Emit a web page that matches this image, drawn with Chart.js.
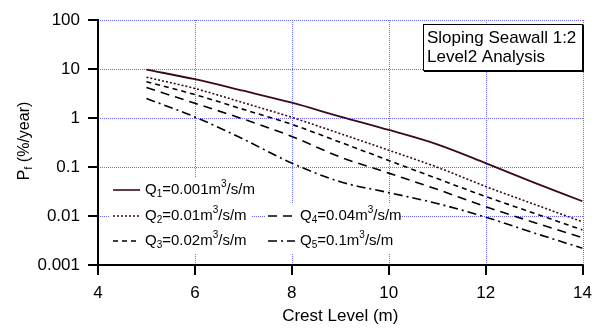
<!DOCTYPE html>
<html>
<head>
<meta charset="utf-8">
<script src="https://cdn.jsdelivr.net/npm/chart.js@4"></script>
<style>
  body { margin: 0; background: #fff; }
  #wrap { width: 600px; height: 329px; }
</style>
</head>
<body>
<div id="wrap"><canvas id="graph"></canvas></div>
<script>
// crest level (m) and failure probability (%/year) per overtopping limit
var crestLevels = [5, 6, 7, 8, 9, 10, 11, 12, 13, 14];
var pfQ1 = [9.7, 6.2, 3.6, 2.05, 1.07, 0.57, 0.29, 0.12, 0.048, 0.02];
var pfQ2 = [6.8, 4.0, 2.05, 1.03, 0.48, 0.22, 0.099, 0.04, 0.0174, 0.0076];
var pfQ3 = [5.5, 3.0, 1.5, 0.74, 0.32, 0.136, 0.058, 0.025, 0.0114, 0.0052];
var pfQ4 = [4.2, 2.0, 0.95, 0.42, 0.16, 0.075, 0.035, 0.0155, 0.0074, 0.0036];
var pfQ5 = [2.5, 1.05, 0.37, 0.12, 0.05, 0.03, 0.018, 0.0095, 0.0045, 0.0022];
var dischargeLabels = ['0.001', '0.01', '0.02', '0.04', '0.1'];
var yTickValues = [0.001, 0.01, 0.1, 1, 10, 100];
var xTickValues = [4, 6, 8, 10, 12, 14];
var noteLines = ['Sloping Seawall 1:2', 'Level2 Analysis'];

var FONT = "'Liberation Sans', Arial, sans-serif";
var maroon = '#3a0a1c';
var gridBlue = 'rgb(105,105,255)';

var styles = [
    { color: maroon, dash: [] },
    { color: maroon, dash: [2, 2] },
    { color: '#000', dash: [5, 4] },
    { color: '#000', dash: [9, 6] },
    { color: '#000', dash: [9, 4, 2, 4] }
];

var allSeries = [pfQ1, pfQ2, pfQ3, pfQ4, pfQ5];
var datasets = allSeries.map(function (vals, i) {
    return {
        label: 'Q' + (i + 1),
        data: crestLevels.map(function (x, j) { return { x: x, y: vals[j] }; }),
        borderColor: styles[i].color,
        borderDash: styles[i].dash,
        borderWidth: i == 0 ? 1.8 : 1.6,
        pointRadius: 0,
        fill: false,
        cubicInterpolationMode: 'monotone'
    };
});

// draw text with sub/superscripts: parts = [[text, 'sub'|'sup'|'']]
function drawRich(ctx, parts, x, y, size) {
    parts.forEach(function (p) {
        var small = p[1] != '';
        ctx.font = (small ? Math.round(size * 0.68) : size) + 'px ' + FONT;
        var dy = p[1] == 'sub' ? 4 : (p[1] == 'sup' ? -6 : 0);
        ctx.fillText(p[0], x, y + dy);
        x += ctx.measureText(p[0]).width;
    });
    return x;
}

function legendParts(i) {
    return [['Q', ''], [String(i + 1), 'sub'], ['=' + dischargeLabels[i] + 'm', ''], ['3', 'sup'], ['/s/m', '']];
}

var legendPos = [
    { x: 113, y: 190 }, { x: 113, y: 216 }, { x: 113, y: 241 },
    { x: 268, y: 216 }, { x: 268, y: 241 }
];

var extras = {
    id: 'extras',
    beforeDatasetsDraw: function (chart) {
        var ctx = chart.ctx;
        var area = chart.chartArea;
        var xs = chart.scales.x, ys = chart.scales.y;
        ctx.save();
        // dotted grid
        ctx.strokeStyle = gridBlue;
        ctx.lineWidth = 1;
        ctx.setLineDash([1, 1]);
        ctx.beginPath();
        xTickValues.forEach(function (v) {
            var px = Math.round(xs.getPixelForValue(v)) + 0.5;
            ctx.moveTo(px, area.top);
            ctx.lineTo(px, area.bottom);
        });
        yTickValues.forEach(function (v) {
            var py = Math.round(ys.getPixelForValue(v)) + 0.5;
            ctx.moveTo(area.left, py);
            ctx.lineTo(area.right + 1, py);
        });
        ctx.stroke();
        ctx.setLineDash([]);
        // axes
        ctx.strokeStyle = '#000';
        ctx.lineWidth = 2;
        ctx.beginPath();
        ctx.moveTo(area.left, area.top - 1);
        ctx.lineTo(area.left, area.bottom);
        ctx.lineTo(area.right + 1, area.bottom);
        ctx.stroke();
        // legend backgrounds
        ctx.fillStyle = '#fff';
        ctx.fillRect(110, 177, 142, 76);
        ctx.fillRect(265, 203, 135, 50);
        ctx.restore();
    },
    afterDatasetsDraw: function (chart) {
        var ctx = chart.ctx;
        ctx.save();
        // legend
        ctx.textBaseline = 'middle';
        legendPos.forEach(function (p, i) {
            ctx.strokeStyle = styles[i].color;
            ctx.lineWidth = 1.6;
            ctx.setLineDash(styles[i].dash);
            ctx.beginPath();
            ctx.moveTo(p.x, p.y);
            ctx.lineTo(p.x + 27, p.y);
            ctx.stroke();
            ctx.setLineDash([]);
            ctx.fillStyle = '#000';
            drawRich(ctx, legendParts(i), p.x + 32, p.y, 15);
        });
        // note box
        ctx.fillStyle = '#fff';
        ctx.fillRect(423, 24, 160, 47);
        ctx.strokeStyle = '#000';
        ctx.lineWidth = 1;
        ctx.strokeRect(423.5, 24.5, 159, 46);
        ctx.beginPath();
        ctx.moveTo(424, 71.5); ctx.lineTo(584, 71.5);
        ctx.moveTo(583.5, 25); ctx.lineTo(583.5, 72);
        ctx.stroke();
        ctx.fillStyle = '#000';
        ctx.font = '17px ' + FONT;
        ctx.fillText(noteLines[0], 427, 38.5);
        ctx.fillText(noteLines[1], 427, 57.5);
        // y axis title with subscript
        ctx.translate(25, 141);
        ctx.rotate(-Math.PI / 2);
        var parts = [['P', ''], ['f', 'sub'], [' (%/year)', '']];
        var w = 0;
        parts.forEach(function (p) {
            ctx.font = (p[1] ? '11px ' : '16px ') + FONT;
            w += ctx.measureText(p[0]).width;
        });
        drawRich(ctx, parts, -w / 2, 0, 16);
        ctx.restore();
    }
};

var ctx = document.getElementById('graph').getContext('2d');
var myChart = new Chart(ctx, {
    type: 'line',
    data: { datasets: datasets },
    options: {
        responsive: true,
        maintainAspectRatio: false,
        animation: false,
        layout: { padding: { top: 20, right: 15, left: 0, bottom: 0 } },
        plugins: {
            legend: { display: false },
            tooltip: { enabled: false }
        },
        scales: {
            x: {
                type: 'linear',
                min: 4,
                max: 14,
                afterBuildTicks: function (scale) {
                    scale.ticks = xTickValues.map(function (v) { return { value: v }; });
                },
                afterFit: function (scale) { scale.height = 64; },
                ticks: { color: '#000', font: { family: FONT, size: 17 }, padding: 8, maxRotation: 0 },
                grid: { drawOnChartArea: false, color: '#000', tickColor: '#000', lineWidth: 2, tickWidth: 2, tickLength: 10 },
                border: { display: false },
                title: {
                    display: true,
                    text: 'Crest Level (m)',
                    color: '#000',
                    font: { family: FONT, size: 17 },
                    padding: { top: 0, bottom: 2 }
                }
            },
            y: {
                type: 'logarithmic',
                min: 0.001,
                max: 100,
                afterBuildTicks: function (scale) {
                    scale.ticks = yTickValues.map(function (v) { return { value: v }; });
                },
                afterFit: function (scale) { scale.width = 98; },
                ticks: {
                    color: '#000',
                    font: { family: FONT, size: 17 },
                    padding: 8,
                    callback: function (v) { return String(v); }
                },
                grid: { drawOnChartArea: false, color: '#000', tickColor: '#000', lineWidth: 2, tickWidth: 2, tickLength: 10 },
                border: { display: false }
            }
        }
    },
    plugins: [extras]
});
</script>
</body>
</html>
